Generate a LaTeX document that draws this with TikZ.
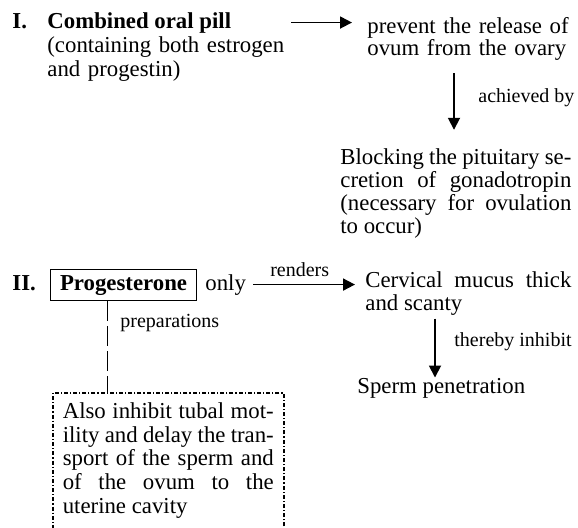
\documentclass[tikz,border=0pt]{standalone}
\usepackage{fontspec}
\setmainfont{Liberation Serif}
\usetikzlibrary{arrows.meta,positioning,calc}

\begin{document}
\begin{tikzpicture}[
  x=0.5pt, y=-0.5pt,
  >={Triangle[length=6pt,width=6pt]},
  txt/.style={font=\fontsize{11.4}{11.6}\selectfont, inner sep=0pt, anchor=base west},
  para/.style={txt, text width=#1, align=justify},
  lbl/.style={font=\fontsize{10}{12}\selectfont, inner sep=0pt, anchor=base west},
  arr/.style={->, line width=0.9pt, draw=black},
  dashline/.style={line width=0.5pt, dash pattern=on 10pt off 2.5pt},
  pbox/.style={draw, line width=0.5pt, inner xsep=4.75pt, inner ysep=0pt,
    minimum height=15.5pt, anchor=base west},
  notebox/.style={draw, line width=0.8pt,
    dash pattern=on 2pt off 1pt on 0.6pt off 1pt,
    inner sep=5pt, anchor=north west}
]
\useasboundingbox (0,0) rectangle (578,527);

% ===== I. combined pill =====
\node[txt, font=\fontsize{11.4}{12.2}\selectfont\bfseries] (numI) at (12,28) {I.};
\node[txt, font=\fontsize{11.4}{12.2}\selectfont\bfseries] (pillT) at (47,28) {Combined oral pill};
\node[txt, font=\fontsize{11.4}{12.2}\selectfont, text width=125pt, align=left] (pillD) at (47,52)
  {(containing both estrogen\\and progestin)};

\node[txt, font=\fontsize{11.4}{11}\selectfont, text width=110pt, align=left] (prevent) at (367,33)
  {prevent the release of\\ovum from the ovary};
\node[para=115.5pt] (block) at (340,164)
  {Blocking the pituitary se-\linebreak cretion of gonadotropin\linebreak
   (necessary for ovulation\linebreak to occur)};
\node[lbl] (achv) at (478,102) {achieved by};

\draw[arr, shorten <=30pt, shorten >=7.5pt] (pillT.east) -- (pillT.east -| prevent.west);
\draw[arr, shorten <=6.5pt, shorten >=9pt] (454,0 |- prevent.south) -- (454,0 |- block.north);

% ===== II. progesterone only =====
\node[txt, font=\fontsize{11.4}{11.6}\selectfont\bfseries] (numII) at (12,290) {II.};
\node[pbox, font=\fontsize{11.4}{11.6}\selectfont\bfseries] (prog) at (50,290) {Progesterone};
\node[txt] (only) at (205,290) {only};

\node[para=103pt] (cerv) at (365,287) {Cervical mucus thick\linebreak and scanty};
\node[lbl] (thrb) at (454,346) {thereby inhibit};
\node[txt] (sperm) at (357,393) {Sperm penetration};

\draw[arr, shorten <=3.5pt, shorten >=5pt] (only.east) -- (only.east -| cerv.west)
  node[lbl, pos=0.45, anchor=base, yshift=4pt] (rend) {renders};
\draw[arr, shorten <=1.5pt] (435,0 |- cerv.south) -- (435,0 |- sperm.north);

% ===== Preparations note =====
\node[txt, notebox, font=\fontsize{11.4}{11.8}\selectfont, text width=105.5pt, text depth=53pt,
  align=justify] (note) at (52,392)
  {Also inhibit tubal mot-\linebreak ility and delay the tran-\linebreak
   sport of the sperm and\linebreak of the ovum to the\linebreak uterine cavity};
\node[lbl] (prep) at (120,327) {preparations};

\draw[dashline] (107,0 |- prog.south) -- (107,0 |- note.north);

\end{tikzpicture}
\end{document}
